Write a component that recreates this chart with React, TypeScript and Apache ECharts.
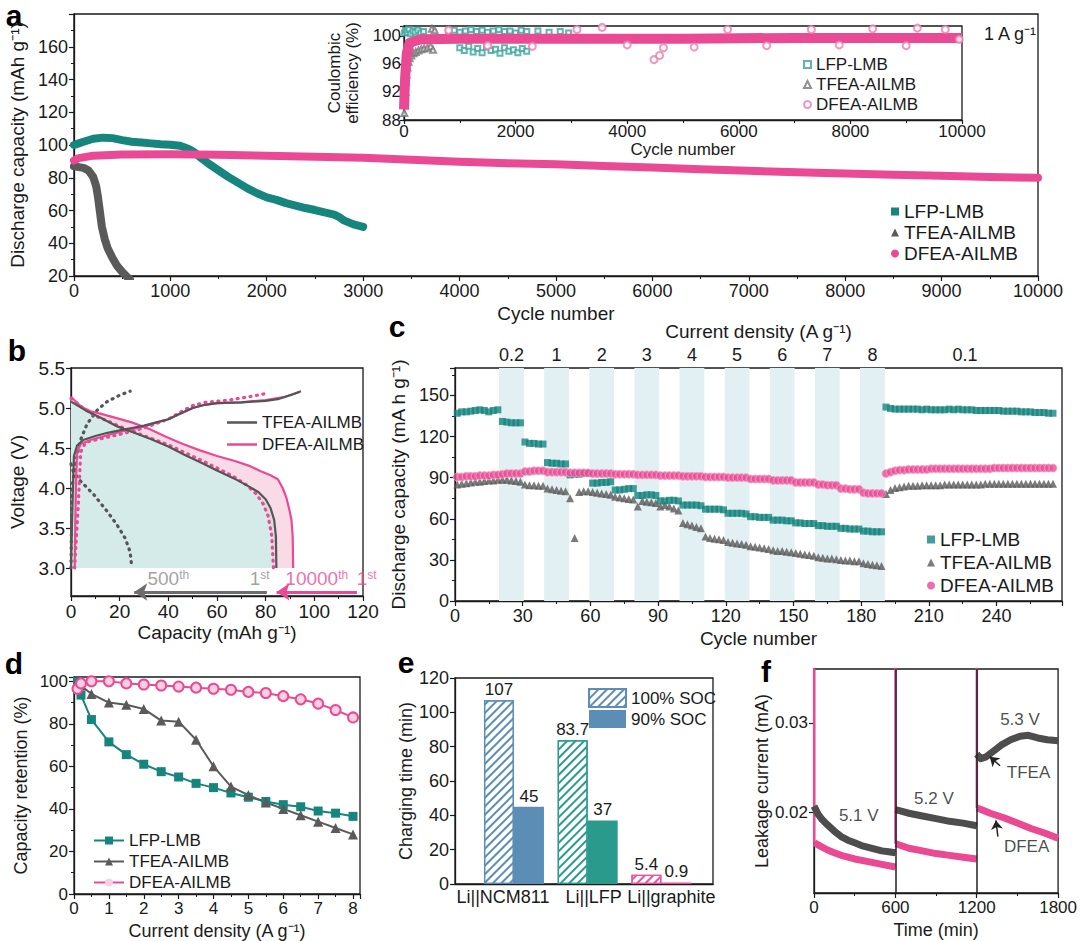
import React, { useEffect, useRef } from 'react';
import * as echarts from 'echarts';

const TEAL = '#15857e';
const GRAY = '#5a5a5a';
const PINK = '#ea4a93';
const INK = '#1a1a1a';
const NARROW = "'Liberation Sans',Arial,Helvetica,sans-serif";
const SANS = "'Liberation Sans',Arial,Helvetica,sans-serif";

// ---------- Panel a: long-term cycling at 1 A/g ----------
const aLfp = [[0,100],[50,101],[100,102],[200,103.8],[300,104.5],[400,104.2],[500,103],[600,102],[700,101.5],[800,101],[900,100.5],[1000,100.2],[1100,99.5],[1150,98.5],[1200,97.3],[1250,95.5],[1300,93],[1400,88.5],[1500,84.5],[1600,80.5],[1700,77],[1800,73.5],[1900,70.5],[2000,68],[2100,66.5],[2200,64.5],[2300,63],[2400,61.5],[2500,60.3],[2600,58.8],[2700,57.5],[2750,56],[2800,54],[2900,51.5],[3000,50]];
const aTfea = [[0,87],[50,86.5],[100,86],[150,84.5],[200,80.5],[230,75],[250,68],[270,59],[290,50],[320,42.5],[350,37],[400,31],[450,26],[500,22.5],[550,19.5],[580,18]];
const aDfea = [[0,90.5],[50,92],[200,93.5],[500,94.2],[1000,94.3],[1500,94],[2000,93.5],[2500,92.8],[3000,92.2],[3500,91],[4000,89.8],[4500,88.8],[5000,88.2],[5500,87.2],[6000,86.3],[6500,85.2],[7000,84.2],[7500,83.4],[8000,82.6],[8500,81.9],[9000,81.2],[9500,80.5],[10000,80]];

// inset: coulombic efficiency
const ceLfp = [[10,100.4],[30,100.8],[60,100.5],[90,100.9],[120,100.3],[160,100.7],[200,100.5],[250,100.8],[300,100.4],[350,100.6],[800,100.6],[900,100.8],[1000,100.5],[1100,100.7],[1200,100.9],[1300,100.6],[1400,100.8],[1500,100.5],[1600,100.7],[1700,100.9],[1800,100.6],[1900,100.7],[2000,100.4],[2100,100.8],[2200,100.6],[2400,100.7],[2600,100.5],[2800,100.6],[2950,100.4],[1000,98.3],[1080,97.9],[1160,98.5],[1240,97.7],[1320,98.2],[1400,97.6],[1480,98.4],[1560,97.9],[1640,98.1],[1720,97.5],[1800,98.3],[1880,97.8],[1960,98.0],[2040,97.6],[2120,98.2],[2200,97.8]];
const ceTfea = [[5,89],[15,90.5],[25,92],[35,93.5],[45,94.5],[60,95.5],[80,96.3],[100,96.8],[130,97.2],[170,97.5],[210,97.7],[260,97.9],[310,98.1],[360,98.2],[420,98.3],[480,98.5],[520,98.0],[500,101.0],[550,100.8]];
const ceDfeaBand = [[0,89.5],[20,94],[50,97.5],[100,99],[300,99.5],[1000,99.6],[3000,99.6],[5000,99.6],[7000,99.7],[9000,99.7],[10000,99.7]];
const ceDfeaOut = [[800,100.8],[1500,98.6],[2300,98.5],[3100,100.9],[3550,101.2],[4000,98.7],[4480,96.6],[4580,97.2],[4650,98.3],[5200,98.4],[5800,100.9],[6500,98.6],[7300,100.9],[7800,98.7],[8400,101.0],[9000,98.6],[9200,101.1],[9700,100.9],[9950,99.5]];

// ---------- Panel b: voltage profiles ----------
const bTfea1Charge = [[0,3.0],[0.6,3.8],[1.2,4.4],[2.5,4.53],[5,4.6],[10,4.65],[15,4.69],[20,4.72],[25,4.75],[30,4.78],[35,4.82],[40,4.86],[45,4.93],[50,5.0],[55,5.04],[60,5.06],[70,5.07],[80,5.09],[85,5.11],[90,5.16],[94.5,5.21]];
const bTfea1Dis = [[0,5.08],[6,4.97],[12,4.88],[19,4.77],[26,4.69],[33,4.61],[40,4.52],[47,4.41],[54,4.31],[60,4.22],[67,4.12],[73,4.02],[77,3.95],[80,3.86],[82,3.75],[83.5,3.6],[84.2,3.4],[84.4,3.0]];
const bTfea500Charge = [[0,3.0],[0.2,3.6],[0.4,4.0],[1.8,4.3],[3.8,4.59],[6.6,4.8],[10.7,4.97],[14.8,5.08],[20,5.16],[24.3,5.21]];
const bTfea500Dis = [[0,4.3],[1,4.2],[3.8,4.09],[9.3,3.92],[14.8,3.71],[18.9,3.54],[22.3,3.37],[24.3,3.2],[25,3.0]];
const bDfea1Charge = [[1.5,3.0],[2,4.0],[2.5,4.45],[4,4.55],[8,4.6],[15,4.66],[20,4.7],[30,4.77],[40,4.86],[45,4.93],[50,5.0],[55,5.04],[60,5.06],[70,5.07],[80,5.1],[88,5.14],[94,5.2]];
const bDfea1Dis = [[0,5.14],[4,5.02],[8,4.96],[12,4.93],[18,4.88],[25,4.82],[32,4.74],[39,4.64],[46,4.55],[53,4.47],[60,4.4],[67,4.34],[73,4.28],[78,4.21],[82,4.16],[85,4.11],[87,4.0],[88.5,3.88],[89.8,3.72],[90.6,3.6],[91.1,3.4],[91.3,3.0]];
const bDfea10kCharge = [[1.5,3.0],[3,3.8],[4,4.45],[6,4.57],[10,4.6],[20,4.67],[30,4.75],[40,4.86],[45,4.95],[50,5.03],[55,5.07],[65,5.1],[75,5.15],[80,5.18]];
const bDfea10kDis = [[0,5.12],[5,5.0],[10,4.9],[15,4.84],[20,4.77],[26,4.7],[33,4.62],[40,4.54],[47,4.44],[54,4.34],[60,4.25],[67,4.14],[72,4.04],[76,3.93],[79,3.8],[81,3.65],[82.5,3.4],[83.2,3.0]];

// ---------- Panel c: rate capability (values at cycles 1,3,5,...,265) ----------
const cLfp = [137,138,138,138.5,139, 139.5,139,138,139,139.5, 131,130.5,130,130,130, 116,115,115,114.5,114.5, 101,100.5,100.5,100,100, 92,92.5,92.5,93,93, 86,86,86.5,86.5,87, 81,81,81.5,82,82, 77,77,77.5,77.5,77, 73,73,73.5,73.5,73, 70,70,70,70,69.5, 67,67,67,67,66.5, 64,64,64,64,63.5, 61.5,61.5,61,61,61, 59,59,59,58.5,58.5, 57,57,56.5,56.5,56.5, 55,55,54.5,54.5,54.5, 53,53,52.5,52.5,52.5, 51,51,50.5,50.5,50.5,
  141.5,140.5,140,140,140,140,140,140,139.5,140, 139.5,139.5,139.5,139.5,140,139.5,140,139.5,139.5,139.5, 139,139,139,139,139,139,138.5,138.5,138.5,138.5, 138,138,138,137.5,137.5,137.5,137,137];
const cTfea = [85,85.5,86,86.5,87, 87,87.5,88,88,88.5, 88.5,88.5,88,87.5,87, 85,84.5,84.5,84,84, 82,81.5,81,80.5,80, 75,46,79.5,80,80, 79.5,79,78.5,78,77.5, 76,75.5,75,74.5,74, 69,73,72.5,72,71.5, 69,70,69,67.5,66, 57,56,55,54,53, 47,46,45.5,45,44.5, 43,42.5,42,41.5,41, 40,39.5,39,38.5,38, 37,36.5,36.5,36,35.5, 35,34.5,34,33.5,33, 32,31.5,31,31,30.5, 30,29.5,29.5,29,29, 27.5,27,26.5,26,25.5,
  78,81,82.5,83,83.5,84,84,84,84.5,84.5, 84.5,84.5,84.5,85,85,85,85,85,85,85, 85,85,85.5,85.5,85.5,85.5,85.5,85.5,85.5,85.5, 85.5,85.5,85.5,85.5,85.5,85.5,85.5,85.5];
const cDfea = [90.5,90.5,91,91,91, 91.5,91.5,91.5,92,92, 92.5,93,93,93,93, 94.5,94.5,95,95,95, 94,94,94,94,94, 93.5,93.5,93.5,93.5,93.5, 93,93,93,93,93, 92.5,92.5,92.5,92.5,92.5, 92,92,92,92,92, 91.5,91.5,91.5,91.5,91.5, 91,91,91,91,91, 90.5,90.5,90.5,90.5,90.5, 90,90,90,90,90, 89,89,89,89,89, 88,88,88,88,88, 86.5,86.5,86.5,86.5,86.5, 85,85,84.5,84.5,84.5, 82,82,81.5,81.5,81.5, 79,78.5,78.5,78.5,78.5,
  93,94,95,95.5,95.5,96,96,96,96,96, 96.5,96.5,96.5,96.5,96.5,96.5,96.5,96.5,96.5,96.5, 96.5,96.5,96.5,96.5,97,97,97,97,97,97, 97,97,97,97,97,97,97,97];
const cBandStarts = [20, 40, 60, 80, 100, 120, 140, 160, 180];
const cRateLabels = ['0.2', '1', '2', '3', '4', '5', '6', '7', '8', '0.1'];
const cRatePos = [25, 45, 65, 85, 105, 125, 145, 165, 185, 226];

// ---------- Panel d: capacity retention ----------
const dRates = [0.1,0.2,0.5,1,1.5,2,2.5,3,3.5,4,4.5,5,5.5,6,6.5,7,7.5,8];
const dLfp = [100,93.5,82,71.5,65.5,61,57.5,55,52,50,47.5,45.5,43.5,42,41,39,38,36.5];
const dTfea = [100,98,94,90,89,87,81.5,81,72.5,60,50.5,46.5,43,40,37,34,31,28];
const dDfea = [96.5,99,100,100,99,98.5,98,97.5,97,96.5,96,95,94.5,93,91.5,89.5,86.5,83];

// ---------- Panel e: charging time ----------
const eGroups = ['Li||NCM811', 'Li||LFP', 'Li||graphite'];
const eSoc100 = [107, 83.7, 5.4];
const eSoc90 = [45, 37, 0.9];
const eColors = ['#5b8db5', '#2a9a8c', '#e8559a'];

// ---------- Panel f: leakage current ----------
const fTfea = [[0,0.0207],[30,0.0198],[60,0.0192],[100,0.0186],[150,0.0179],[200,0.0173],[250,0.0169],[300,0.0166],[350,0.0163],[400,0.0161],[450,0.0159],[500,0.0157],[550,0.0156],[600,0.0155],null,
  [600,0.0203],[650,0.0201],[700,0.0199],[800,0.0196],[900,0.0193],[1000,0.019],[1100,0.0188],[1200,0.0185],null,
  [1200,0.0265],[1230,0.026],[1270,0.0262],[1320,0.0268],[1380,0.0275],[1450,0.0281],[1520,0.0285],[1580,0.0286],[1650,0.0283],[1720,0.0281],[1800,0.028]];
const fDfea = [[3,0.0166],[50,0.0162],[100,0.0158],[150,0.0155],[200,0.0152],[300,0.0148],[400,0.0145],[500,0.0142],[600,0.0139],null,
  [603,0.0165],[700,0.016],[800,0.0157],[900,0.0154],[1000,0.0152],[1100,0.015],[1200,0.0148],null,
  [1203,0.0205],[1250,0.0202],[1300,0.0199],[1400,0.0194],[1500,0.0188],[1600,0.0182],[1700,0.0177],[1800,0.0171]];
const fDfeaSpikes = [[1,0.04],[1,0.0166],null,[601,0.04],[601,0.0165],null,[1201,0.04],[1201,0.0205]];

// ---------- helpers ----------
function axis(gridIndex: number, o: any) {
  const base: any = {
    gridIndex, type: 'value', nameLocation: 'middle',
    axisLine: { show: true, onZero: false, lineStyle: { color: INK, width: 1.3 } },
    axisTick: { show: true, length: 5, lineStyle: { color: INK, width: 1.2 } },
    minorTick: { show: false },
    splitLine: { show: false },
    axisLabel: { color: INK, fontSize: 18, fontFamily: SANS, margin: 6, formatter: (v: number) => String(v) },
    nameTextStyle: { color: INK, fontSize: 18, fontFamily: SANS },
  };
  const out: any = { ...base, ...o };
  for (const k of ['axisLine', 'axisTick', 'minorTick', 'axisLabel', 'nameTextStyle']) {
    if (o[k]) out[k] = { ...base[k], ...o[k] };
  }
  return out;
}
const grid = (left: number, top: number, width: number, height: number) => ({
  left, top, width, height, show: true, borderColor: INK, borderWidth: 1.3, backgroundColor: 'transparent',
});
const strip = (n: string) => n.slice(n.indexOf(':') + 1);
const hatch = (c: string) => ({
  symbol: 'rect', symbolSize: 1, dashArrayX: [1, 0], dashArrayY: [1.4, 3.6], rotation: -Math.PI / 4, color: c,
});
const cIdx = (arr: number[]) => arr.map((v, i) => [1 + 2 * i, v]);

function buildOption(): any {
  const series: any[] = [];

  // ---- a ----
  series.push(
    { name: 'a:LFP-LMB', type: 'line', xAxisIndex: 0, yAxisIndex: 0, data: aLfp, symbol: 'none', color: TEAL, lineStyle: { width: 8, cap: 'round', join: 'round' } },
    { name: 'a:TFEA-AILMB', type: 'line', xAxisIndex: 0, yAxisIndex: 0, data: aTfea, symbol: 'none', color: GRAY, lineStyle: { width: 8, cap: 'round', join: 'round' } },
    { name: 'a:DFEA-AILMB', type: 'line', xAxisIndex: 0, yAxisIndex: 0, data: aDfea, symbol: 'none', color: PINK, lineStyle: { width: 8, cap: 'round', join: 'round' } },
  );
  // inset
  series.push(
    { name: 'i:band', type: 'line', xAxisIndex: 1, yAxisIndex: 1, data: ceDfeaBand, symbol: 'none', color: PINK, lineStyle: { width: 10, join: 'round' }, z: 3 },
    { name: 'i:LFP-LMB', type: 'scatter', xAxisIndex: 1, yAxisIndex: 1, data: ceLfp, symbol: 'emptyRect', symbolSize: 5, color: '#3aa39c', z: 2 },
    { name: 'i:TFEA-AILMB', type: 'scatter', xAxisIndex: 1, yAxisIndex: 1, data: ceTfea, symbol: 'emptyTriangle', symbolSize: 6, color: '#777', z: 2 },
    { name: 'i:DFEA-AILMB', type: 'scatter', xAxisIndex: 1, yAxisIndex: 1, data: ceDfeaOut, symbol: 'emptyCircle', symbolSize: 7, color: '#f07ab0', z: 4 },
  );

  // ---- b ----
  const area = (name: string, data: any, color: string) => ({
    name, type: 'line', xAxisIndex: 2, yAxisIndex: 2, data, symbol: 'none', lineStyle: { width: 0, opacity: 0 },
    areaStyle: { color, opacity: 1, origin: 3.0 }, z: 1, silent: true,
  });
  series.push(area('b:fp', bDfea1Dis, '#f9dbe8'), area('b:fg', bTfea1Dis, '#dcdcdc'), area('b:ft', bDfea10kDis, '#d5ebe9'));
  const dots = { type: [1, 5.5], cap: 'round', width: 3.2 };
  const bl = (name: string, data: any, color: string, ls: any) => ({
    name, type: 'line', xAxisIndex: 2, yAxisIndex: 2, data, symbol: 'none', color, lineStyle: { color, ...ls }, z: 3,
  });
  series.push(
    bl('b:t500c', bTfea500Charge, '#555', dots),
    { ...bl('b:t500d', bTfea500Dis, '#555', dots),
      markLine: {
        silent: true, symbol: ['none', 'none'], label: { show: false },
        data: [
          [{ coord: [80.5, 2.7], symbol: 'none', lineStyle: { color: '#6d6d6d', width: 3, type: 'solid' } }, { coord: [26, 2.7], symbol: 'arrow', symbolSize: 13 }],
          [{ coord: [117.5, 2.7], symbol: 'none', lineStyle: { color: PINK, width: 3, type: 'solid' } }, { coord: [84.5, 2.7], symbol: 'arrow', symbolSize: 13 }],
        ],
      } },
    bl('b:d10kc', bDfea10kCharge, PINK, dots),
    bl('b:d10kd', bDfea10kDis, PINK, dots),
    bl('b:DFEA-AILMB', bDfea1Charge, PINK, { width: 2.2 }),
    bl('b:DFEA-AILMB', bDfea1Dis, PINK, { width: 2.2 }),
    bl('b:TFEA-AILMB', bTfea1Charge, '#555', { width: 2.2 }),
    bl('b:TFEA-AILMB', bTfea1Dis, '#555', { width: 2.2 }),
  );
  const bRich = {
    g: { fontSize: 19, color: '#8a8a8a', fontFamily: SANS },
    gs: { fontSize: 12, color: '#8a8a8a', fontFamily: SANS, verticalAlign: 'top' },
    p: { fontSize: 19, color: PINK, fontFamily: SANS },
    ps: { fontSize: 12, color: PINK, fontFamily: SANS, verticalAlign: 'top' },
  };
  series.push({
    name: 'b:notes', type: 'scatter', xAxisIndex: 2, yAxisIndex: 2, symbolSize: 0, clip: false, silent: true, z: 5,
    label: { show: true, position: 'inside', rich: bRich },
    data: [
      { value: [40, 2.87], label: { formatter: '{g|500}{gs|th}' } },
      { value: [77.5, 2.87], label: { formatter: '{g|1}{gs|st}' } },
      { value: [101, 2.87], label: { formatter: '{p|10000}{ps|th}' } },
      { value: [121.5, 2.87], label: { formatter: '{p|1}{ps|st}' } },
    ],
  });

  // ---- c ----
  series.push(
    { name: 'c:LFP-LMB', type: 'scatter', xAxisIndex: 3, yAxisIndex: 3, data: cIdx(cLfp), symbol: 'rect', symbolSize: 7, color: TEAL, z: 3,
      markArea: { silent: true, itemStyle: { color: '#e2f0f3' }, data: cBandStarts.map((s) => [{ xAxis: s - 0.5 }, { xAxis: s + 10.5 }]) } },
    { name: 'c:TFEA-AILMB', type: 'scatter', xAxisIndex: 3, yAxisIndex: 3, data: cIdx(cTfea), symbol: 'triangle', symbolSize: 8, color: GRAY, z: 3 },
    { name: 'c:DFEA-AILMB', type: 'scatter', xAxisIndex: 3, yAxisIndex: 3, data: cIdx(cDfea), symbol: 'circle', symbolSize: 8, color: PINK, itemStyle: { borderColor: '#f5a3c7', borderWidth: 1 }, z: 4 },
  );

  // ---- d ----
  const dz = (arr: number[]) => dRates.map((r, i) => [r, arr[i]]);
  series.push(
    { name: 'd:LFP-LMB', type: 'line', xAxisIndex: 5, yAxisIndex: 4, data: dz(dLfp), symbol: 'rect', symbolSize: 9, color: TEAL, lineStyle: { width: 2 } },
    { name: 'd:TFEA-AILMB', type: 'line', xAxisIndex: 5, yAxisIndex: 4, data: dz(dTfea), symbol: 'triangle', symbolSize: 10, color: GRAY, lineStyle: { width: 2 } },
    { name: 'd:DFEA-AILMB', type: 'line', xAxisIndex: 5, yAxisIndex: 4, data: dz(dDfea), symbol: 'circle', symbolSize: 10, color: PINK, itemStyle: { color: '#f9cfe1', borderColor: PINK, borderWidth: 2 }, lineStyle: { width: 2, color: PINK } },
  );

  // ---- e ----
  const eLabel = { show: true, position: 'top', distance: 2, fontSize: 17, color: INK, fontFamily: SANS, formatter: (p: any) => String(p.value[1]) };
  series.push(
    { name: 'e:100% SOC', type: 'bar', xAxisIndex: 6, yAxisIndex: 5, barWidth: 30, barGap: '0%', label: eLabel,
      itemStyle: { color: '#fff', borderColor: eColors[0], borderWidth: 1.3, decal: hatch(eColors[0]) },
      data: eGroups.map((g, i) => ({ value: [i + 1, eSoc100[i]], itemStyle: { color: '#fff', borderColor: eColors[i], borderWidth: 1.3, decal: hatch(eColors[i]) } })) },
    { name: 'e:90% SOC', type: 'bar', xAxisIndex: 6, yAxisIndex: 5, barWidth: 30, barGap: '0%', label: eLabel,
      itemStyle: { color: eColors[0] },
      data: eGroups.map((g, i) => ({ value: [i + 1, eSoc90[i]], itemStyle: { color: eColors[i] } })) },
  );

  // ---- f ----
  series.push(
    { name: 'f:TFEA', type: 'line', xAxisIndex: 7, yAxisIndex: 6, data: fTfea, symbol: 'none', color: '#4d4d4d', lineStyle: { width: 7, join: 'round' }, z: 3,
      markLine: { silent: true, symbol: ['none', 'none'], label: { show: false }, lineStyle: { color: '#222', width: 1.5, type: 'solid' },
        data: [{ xAxis: 600 }, { xAxis: 1200 },
          [{ coord: [1372, 0.0252], symbol: 'none' }, { coord: [1296, 0.0262], symbol: 'arrow', symbolSize: 9 }],
          [{ coord: [1356, 0.0173], symbol: 'none' }, { coord: [1341, 0.0191], symbol: 'arrow', symbolSize: 9 }]] } },
    { name: 'f:DFEA', type: 'line', xAxisIndex: 7, yAxisIndex: 6, data: fDfea, symbol: 'none', color: PINK, lineStyle: { width: 7, join: 'round' }, z: 2 },
    { name: 'f:spikes', type: 'line', xAxisIndex: 7, yAxisIndex: 6, data: fDfeaSpikes, symbol: 'none', color: PINK, lineStyle: { width: 2.5 }, z: 2 },
    { name: 'f:notes', type: 'scatter', xAxisIndex: 7, yAxisIndex: 6, symbolSize: 0, silent: true, clip: false, z: 5,
      label: { show: true, position: 'inside', fontSize: 17, color: INK, fontFamily: SANS, formatter: (p: any) => p.data.t },
      data: [
        { value: [330, 0.0196], t: '5.1 V' }, { value: [884, 0.0215], t: '5.2 V' }, { value: [1519, 0.0304], t: '5.3 V' },
        { value: [1582, 0.0244], t: 'TFEA' }, { value: [1568, 0.0162], t: 'DFEA' },
      ] },
  );

  const xAxis = [
    axis(0, { min: 0, max: 10000, interval: 1000, minorTick: { show: true, splitNumber: 2, length: 3 }, axisLabel: { fontSize: 18, fontFamily: NARROW }, name: 'Cycle number', nameGap: 28, nameTextStyle: { fontSize: 19, fontFamily: NARROW } }),
    axis(1, { min: 0, max: 10000, interval: 2000, minorTick: { show: true, splitNumber: 2, length: 3 }, axisTick: { length: 4 }, axisLabel: { fontSize: 17, fontFamily: NARROW, margin: 3 }, name: 'Cycle number', nameGap: 20, nameTextStyle: { fontSize: 17, fontFamily: NARROW } }),
    axis(2, { min: 0, max: 120, interval: 20, minorTick: { show: true, splitNumber: 2, length: 3 }, axisLabel: { fontSize: 19 }, name: 'Capacity (mAh g⁻¹)', nameGap: 27, nameTextStyle: { fontSize: 19 } }),
    axis(3, { min: 0, max: 269, interval: 30, minorTick: { show: true, splitNumber: 2, length: 3 }, axisLabel: { fontSize: 18, fontFamily: NARROW, formatter: (v: number) => (v % 30 === 0 ? String(v) : '') }, name: 'Cycle number', nameGap: 28, nameTextStyle: { fontSize: 19, fontFamily: NARROW } }),
    axis(3, { position: 'top', min: 0, max: 269, axisLine: { show: false }, axisTick: { show: false },
      axisLabel: { fontSize: 18, fontFamily: NARROW, margin: 4, customValues: cRatePos, formatter: (v: number) => { const i = cRatePos.findIndex((p) => Math.abs(p - v) < 0.01); return i >= 0 ? cRateLabels[i] : ''; } },
      name: 'Current density (A g⁻¹)', nameGap: 27, nameTextStyle: { fontSize: 19, fontFamily: NARROW } }),
    axis(4, { min: 0, max: 8.2, interval: 1, minorTick: { show: true, splitNumber: 2, length: 3 }, axisLabel: { fontSize: 17, formatter: (v: number) => (Math.abs(v - Math.round(v)) < 1e-6 ? String(Math.round(v)) : '') }, name: 'Current density (A g⁻¹)', nameGap: 28, nameTextStyle: { fontSize: 18 } }),
    axis(5, { min: 0.2, max: 3.7, axisTick: { show: false },
      axisLabel: { fontSize: 18, margin: 4, customValues: [1, 2, 3],
        formatter: (v: number) => { const i = Math.round(v) - 1; return ['{a|', '{b|', '{c|'][i] + eGroups[i] + '}'; },
        rich: { a: { fontSize: 18, color: INK, fontFamily: SANS, padding: [0, 22, 0, 0] }, b: { fontSize: 18, color: INK, fontFamily: SANS, padding: [0, 0, 0, 12] }, c: { fontSize: 18, color: INK, fontFamily: SANS, padding: [0, 0, 0, 20] } } } }),
    axis(6, { min: 0, max: 1800, interval: 600, minorTick: { show: true, splitNumber: 2, length: 3 }, axisLabel: { fontSize: 17 }, name: 'Time (min)', nameGap: 28, nameTextStyle: { fontSize: 18 } }),
  ];
  const yAxis = [
    axis(0, { min: 20, max: 180, interval: 20, minorTick: { show: true, splitNumber: 2, length: 3 }, axisLabel: { fontSize: 18, fontFamily: NARROW, formatter: (v: number) => (v > 170 ? '' : String(v)) }, name: 'Discharge capacity (mAh g⁻¹)', nameGap: 42, nameTextStyle: { fontSize: 19, fontFamily: NARROW } }),
    axis(1, { min: 88, max: 101.4, interval: 4, axisTick: { length: 4 }, axisLabel: { fontSize: 17, fontFamily: NARROW, margin: 3, formatter: (v: number) => (Math.abs(v % 4) < 1e-6 ? String(v) : '') }, name: 'Coulombic\nefficiency (%)', nameGap: 26, nameTextStyle: { fontSize: 17, fontFamily: NARROW, lineHeight: 18 } }),
    axis(2, { min: 2.65, max: 5.5, axisLabel: { fontSize: 19, customValues: [3, 3.5, 4, 4.5, 5, 5.5], formatter: (v: number) => v.toFixed(1) }, axisTick: { customValues: [3, 3.5, 4, 4.5, 5, 5.5] }, name: 'Voltage (V)', nameGap: 44, nameTextStyle: { fontSize: 19 } }),
    axis(3, { min: 0, max: 170, interval: 30, minorTick: { show: true, splitNumber: 2, length: 3 }, axisLabel: { fontSize: 18, fontFamily: NARROW, formatter: (v: number) => (v > 160 ? '' : String(v)) }, name: 'Discharge capacity (mA h g⁻¹)', nameGap: 45, nameTextStyle: { fontSize: 19, fontFamily: NARROW } }),
    axis(4, { min: 0, max: 102, interval: 20, minorTick: { show: true, splitNumber: 2, length: 3 }, axisLabel: { fontSize: 17, formatter: (v: number) => (v > 100.5 ? '' : String(v)) }, name: 'Capacity retention (%)', nameGap: 44, nameTextStyle: { fontSize: 18 } }),
    axis(5, { min: 0, max: 120, interval: 20, axisLabel: { fontSize: 18 }, name: 'Charging time (min)', nameGap: 40, nameTextStyle: { fontSize: 18 } }),
    axis(6, { min: 0.011, max: 0.036, axisLabel: { fontSize: 17, customValues: [0.02, 0.03], formatter: (v: number) => v.toFixed(2) }, axisTick: { customValues: [0.02, 0.03] }, name: 'Leakage current (mA)', nameGap: 37, nameTextStyle: { fontSize: 18 } }),
  ];

  const lg = (o: any) => ({ orient: 'vertical', selectedMode: false, formatter: strip, itemStyle: { borderWidth: 0 }, ...o });
  const legend = [
    lg({ left: 886, top: 197, itemWidth: 8, itemHeight: 8, itemGap: 2, textStyle: { fontSize: 19, fontFamily: NARROW, color: INK },
      data: [{ name: 'a:LFP-LMB', icon: 'rect' }, { name: 'a:TFEA-AILMB', icon: 'triangle' }, { name: 'a:DFEA-AILMB', icon: 'circle' }] }),
    lg({ left: 798, top: 51, itemWidth: 7, itemHeight: 7, itemGap: 3, itemStyle: {}, textStyle: { fontSize: 17, fontFamily: NARROW, color: INK },
      data: [{ name: 'i:LFP-LMB' }, { name: 'i:TFEA-AILMB' }, { name: 'i:DFEA-AILMB' }] }),
    lg({ left: 222, top: 409, itemWidth: 30, itemHeight: 2.5, itemGap: 5, textStyle: { fontSize: 17, fontFamily: SANS, color: INK },
      data: [{ name: 'b:TFEA-AILMB', icon: 'rect' }, { name: 'b:DFEA-AILMB', icon: 'rect' }] }),
    lg({ left: 922, top: 525, itemWidth: 8, itemHeight: 8, itemGap: 4, textStyle: { fontSize: 19, fontFamily: NARROW, color: INK },
      data: [{ name: 'c:LFP-LMB', icon: 'rect' }, { name: 'c:TFEA-AILMB', icon: 'triangle' }, { name: 'c:DFEA-AILMB', icon: 'circle' }] }),
    lg({ left: 88, top: 827, itemWidth: 30, itemHeight: 10, itemGap: 4, textStyle: { fontSize: 17, fontFamily: SANS, color: INK },
      data: ['d:LFP-LMB', 'd:TFEA-AILMB', 'd:DFEA-AILMB'] }),
    lg({ left: 583, top: 683, itemWidth: 37, itemHeight: 18, itemGap: 2, itemStyle: {}, textStyle: { fontSize: 17, fontFamily: SANS, color: INK },
      data: [{ name: 'e:100% SOC', icon: 'rect' }, { name: 'e:90% SOC', icon: 'rect' }] }),
  ];

  const letter = (t: string, x: number, y: number) => ({
    type: 'text', x, y, silent: true,
    style: { text: t, fontSize: 30, fontWeight: 'bold', fontFamily: SANS, fill: '#000', align: 'center', verticalAlign: 'middle' },
  });
  const graphic = [
    letter('a', 14, 15), letter('b', 17, 350), letter('c', 397, 326), letter('d', 14, 663), letter('e', 406, 662), letter('f', 766, 671),
    { type: 'text', x: 1010, y: 34, silent: true, style: { text: '1 A g⁻¹', fontSize: 18, fontFamily: NARROW, fill: INK, align: 'center', verticalAlign: 'middle' } },
  ];

  return {
    animation: false,
    backgroundColor: '#fff',
    textStyle: { fontFamily: SANS },
    grid: [
      grid(66, 14, 972, 262),
      grid(404, 26, 558, 94),
      grid(71, 368, 292, 228),
      grid(455, 368, 607, 233),
      grid(74, 677, 286, 217),
      grid(455, 678, 258, 206),
      grid(814, 669, 246, 224),
    ],
    xAxis, yAxis, legend, series, graphic,
  };
}

export default function App() {
  const ref = useRef<HTMLDivElement>(null);
  useEffect(() => {
    document.body.style.margin = '0';
    const chart = echarts.init(ref.current!, null, { renderer: 'svg' });
    chart.setOption(buildOption());
    return () => chart.dispose();
  }, []);
  return <div ref={ref} style={{ position: 'absolute', left: 0, top: 0, width: 1080, height: 941, background: '#fff' }} />;
}
